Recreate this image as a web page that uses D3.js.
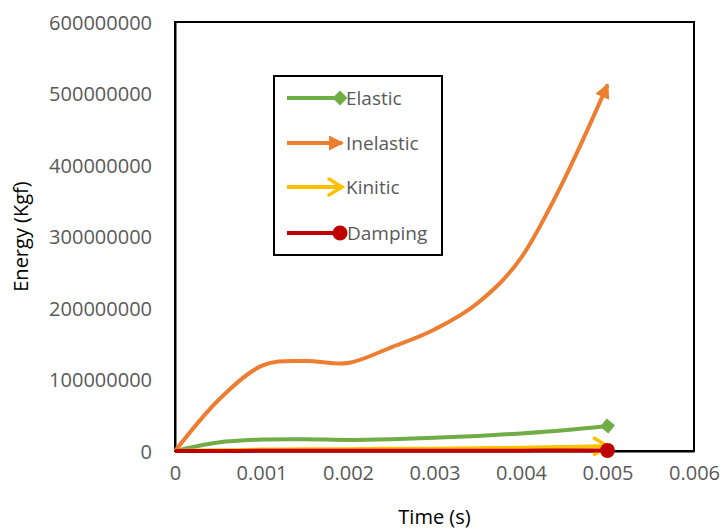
<!DOCTYPE html>
<html>
<head>
<meta charset="utf-8">
<script src="https://cdn.jsdelivr.net/npm/d3@7/dist/d3.min.js"></script>
<style>
  html, body { margin: 0; padding: 0; background: #fff; }
  svg { display: block; font-family: "Open Sans", "Noto Sans", sans-serif; }
</style>
</head>
<body>
<svg id="chart" width="722" height="531"></svg>
<script>
// Time samples (s)
const time = [0, 0.0005, 0.001, 0.0015, 0.002, 0.0025, 0.003, 0.0035, 0.004, 0.0045, 0.005];

// Energy series
const elastic   = [0, 12e6, 16e6, 16.5e6, 15.5e6, 16.5e6, 18.5e6, 21e6, 24.5e6, 29e6, 35e6];
const inelastic = [0, 71e6, 119e6, 126e6, 123e6, 145e6, 170e6, 207e6, 270e6, 380e6, 512e6];
const kinitic   = [0, 1e6, 2e6, 2.3e6, 2.5e6, 3e6, 3.3e6, 3.8e6, 4.5e6, 5.5e6, 7e6];
const damping   = [0, 0.1e6, 0.2e6, 0.2e6, 0.3e6, 0.3e6, 0.4e6, 0.4e6, 0.5e6, 0.6e6, 0.8e6];

const seriesNames = ["Elastic", "Inelastic", "Kinitic", "Damping"];
const seriesColors = ["#70AD47", "#ED7D31", "#FFC000", "#C00000"];
const seriesValues = [elastic, inelastic, kinitic, damping];
const seriesEnds = ["diamond", "triangle", "open", "oval"];

// Axis ticks
const xTicks = [0, 0.001, 0.002, 0.003, 0.004, 0.005, 0.006];
const yTicks = [0, 100000000, 200000000, 300000000, 400000000, 500000000, 600000000];

const svg = d3.select("#chart");
const W = 722, H = 531;
const m = { left: 175, top: 22, right: 28, bottom: 80 };

const x = d3.scaleLinear().domain([0, 0.006]).range([m.left, W - m.right]);
const y = d3.scaleLinear().domain([0, 600000000]).range([H - m.bottom, m.top]);

// Line-end markers
const defs = svg.append("defs");
seriesNames.forEach((name, i) => {
  const c = seriesColors[i];
  const mk = defs.append("marker")
    .attr("id", "end-" + i)
    .attr("markerUnits", "userSpaceOnUse")
    .attr("orient", "auto")
    .attr("overflow", "visible")
    .attr("markerWidth", 20).attr("markerHeight", 20)
    .attr("refX", 0).attr("refY", 0)
    .attr("viewBox", "-10 -10 20 20");
  const kind = seriesEnds[i];
  if (kind === "diamond") {
    mk.append("path").attr("d", "M0,-7.5L7.5,0L0,7.5L-7.5,0Z").attr("fill", c);
  } else if (kind === "triangle") {
    mk.append("path").attr("d", "M2,0L-13,-7.5L-13,7.5Z").attr("fill", c);
  } else if (kind === "open") {
    mk.append("path").attr("d", "M-13,-8L0,0L-13,8").attr("fill", "none")
      .attr("stroke", c).attr("stroke-width", 3.5).attr("stroke-linecap", "round");
  } else {
    mk.append("circle").attr("r", 7.5).attr("fill", c);
  }
});

// Plot area frame
svg.append("rect")
  .attr("x", m.left).attr("y", m.top)
  .attr("width", W - m.left - m.right).attr("height", H - m.top - m.bottom)
  .attr("fill", "none").attr("stroke", "#000").attr("stroke-width", 2);

// Axes (labels only, no tick marks)
const xAxis = d3.axisBottom(x).tickValues(xTicks).tickSize(0).tickPadding(0)
  .tickFormat(d => d === 0 ? "0" : d3.format(".3f")(d));
const gx = svg.append("g").attr("transform", `translate(0,${H - m.bottom})`).call(xAxis);
gx.select(".domain").attr("stroke", "#000").attr("stroke-width", 2);
gx.selectAll("text").attr("dy", null).attr("y", 29)
  .attr("font-size", 20).attr("fill", "#595959").attr("font-family", "Open Sans");

const yAxis = d3.axisLeft(y).tickValues(yTicks).tickSize(0).tickPadding(23)
  .tickFormat(d3.format("d"));
const gy = svg.append("g").attr("transform", `translate(${m.left},0)`).call(yAxis);
gy.select(".domain").attr("stroke", "#000").attr("stroke-width", 2);
gy.selectAll("text").attr("dy", "0.35em")
  .attr("font-size", 20).attr("fill", "#595959").attr("font-family", "Open Sans");

// Axis titles
svg.append("text")
  .attr("x", (m.left + W - m.right) / 2).attr("y", 524)
  .attr("text-anchor", "middle").attr("font-size", 20).attr("fill", "#000")
  .text("Time (s)");
svg.append("text")
  .attr("transform", `translate(28,${(m.top + H - m.bottom) / 2}) rotate(-90)`)
  .attr("text-anchor", "middle").attr("font-size", 20).attr("fill", "#000")
  .text("Energy (Kgf)");

// Series lines (smoothed)
const line = d3.line()
  .x(d => x(d[0])).y(d => y(d[1]))
  .curve(d3.curveCardinal.tension(0));

seriesValues.forEach((vals, i) => {
  const pts = time.map((t, k) => [t, vals[k]]);
  svg.append("path")
    .datum(pts)
    .attr("d", line)
    .attr("fill", "none")
    .attr("stroke", seriesColors[i])
    .attr("stroke-width", 4)
    .attr("stroke-linejoin", "round")
    .attr("marker-end", `url(#end-${i})`);
});

// Legend
const lg = svg.append("g").attr("transform", "translate(274,76)");
lg.append("rect").attr("width", 168).attr("height", 179)
  .attr("fill", "#fff").attr("stroke", "#000").attr("stroke-width", 2);
const rowY = [22, 67, 111, 157];
seriesNames.forEach((name, i) => {
  const row = lg.append("g").attr("transform", `translate(0,${rowY[i]})`);
  const x2 = seriesEnds[i] === "diamond" || seriesEnds[i] === "oval" ? 66 : 68;
  row.append("path")
    .attr("d", `M13,0L${x2},0`)
    .attr("stroke", seriesColors[i]).attr("stroke-width", 4)
    .attr("marker-end", `url(#end-${i})`);
  row.append("text")
    .attr("x", seriesEnds[i] === "oval" ? 73 : 72).attr("y", 0).attr("dy", "0.35em")
    .attr("font-size", 19).attr("fill", "#595959")
    .text(name);
});
</script>
</body>
</html>
